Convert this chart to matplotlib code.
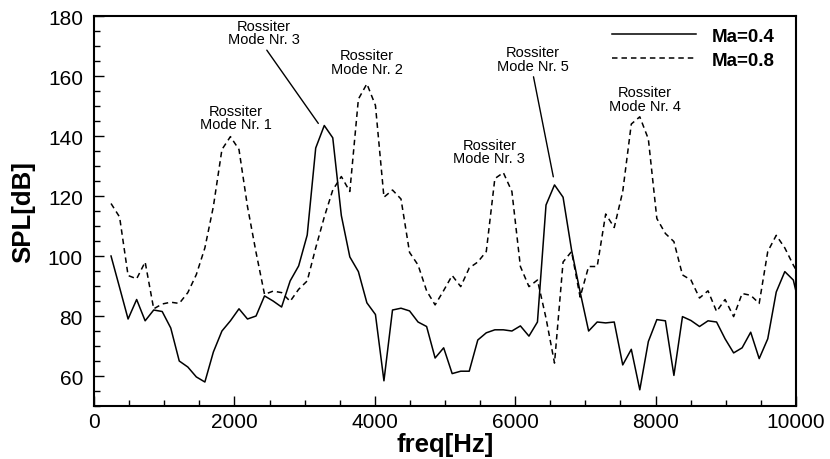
import matplotlib
matplotlib.use('Agg')
from matplotlib import pyplot as plt
from matplotlib.ticker import MultipleLocator

plt.rcParams['font.family'] = ['Liberation Sans', 'DejaVu Sans']

# frequency grid [Hz]
freq = [242, 364, 485, 607, 728, 850, 971, 1093, 1214, 1336,
        1457, 1579, 1700, 1822, 1943, 2065, 2186, 2308, 2429, 2551,
        2672, 2794, 2915, 3037, 3158, 3280, 3401, 3523, 3644, 3766,
        3887, 4009, 4130, 4252, 4373, 4495, 4616, 4738, 4859, 4981,
        5102, 5224, 5345, 5467, 5588, 5710, 5831, 5953, 6074, 6196,
        6317, 6439, 6560, 6682, 6803, 6925, 7046, 7168, 7289, 7411,
        7532, 7654, 7775, 7897, 8018, 8140, 8261, 8383, 8504, 8626,
        8747, 8869, 8990, 9112, 9233, 9355, 9476, 9598, 9719, 9841,
        9962, 10084]

# SPL [dB], Ma = 0.4
spl_04 = [100, 89.5, 79, 85.5, 78.4, 82, 81.5, 76, 65, 63,
          59.7, 58, 68, 75, 78.4, 82.4, 79, 80, 86.7, 85,
          83, 91.7, 96.7, 107, 136, 143.5, 139.4, 113.5, 99.7, 94.8,
          84.4, 80.5, 58.4, 82, 82.6, 81.7, 78, 76.5, 66, 69.4,
          60.8, 61.6, 61.6, 72, 74.4, 75.4, 75.4, 75, 76.7, 73.3,
          78, 117, 123.7, 119.6, 102, 88, 75, 78, 77.7, 78,
          63.7, 68.9, 55.4, 71.5, 78.8, 78.4, 60.2, 79.8, 78.5, 76.5,
          78.4, 78, 72.4, 67.7, 69.4, 74.6, 65.8, 72.4, 88, 94.8,
          92, 80]

# SPL [dB], Ma = 0.8
spl_08 = [117.5, 113, 93.5, 92.4, 98, 82.4, 84, 84.6, 84.2, 87.8,
          93.8, 102.7, 116.5, 135.5, 139.8, 135.5, 116.5, 101.2, 87.2, 88.3,
          87.8, 84.9, 88.9, 91.7, 102.7, 113, 122, 126.5, 121.5, 152.3,
          157.4, 150.2, 119.6, 122, 119, 101.2, 97, 88.4, 83.7, 88.5,
          93.5, 89.8, 96, 98, 101.5, 125.8, 127.8, 121.5, 96.5, 89.8,
          92, 79.3, 64.3, 98, 101.5, 86.3, 96.5, 96.5, 114, 109.5,
          121.5, 144, 146.4, 139, 112.5, 107.5, 104.8, 93.7, 92, 86,
          88.4, 81.5, 85.5, 79.8, 87.5, 86.9, 84.2, 101.5, 106.9, 102.7,
          97, 92]

fig = plt.figure(figsize=(8.3, 4.6), dpi=100)
ax = fig.add_axes([0.1133, 0.1152, 0.8457, 0.8478])

ax.plot(freq, spl_04, color='black', lw=1.1, label='Ma=0.4')
ax.plot(freq, spl_08, color='black', lw=1.1, linestyle=(0, (3.6, 2.6)), label='Ma=0.8')

ax.set_xlim(0, 10000)
ax.set_ylim(50, 180)
ax.xaxis.set_major_locator(MultipleLocator(2000))
ax.xaxis.set_minor_locator(MultipleLocator(500))
ax.yaxis.set_major_locator(MultipleLocator(20))
ax.yaxis.set_minor_locator(MultipleLocator(5))
ax.tick_params(which='both', direction='in', top=False, right=False, width=1.0, labelsize=15)
ax.tick_params(which='major', length=7)
ax.tick_params(which='minor', length=4.5)
ax.tick_params(axis='y', pad=8)
ax.tick_params(axis='x', pad=4)
for s in ax.spines.values():
    s.set_linewidth(1.5)

ax.set_xlabel('freq[Hz]', fontsize=18.5, fontweight='bold', labelpad=1)
ax.set_ylabel('SPL[dB]', fontsize=18.5, fontweight='bold', labelpad=9)

ax.legend(loc='upper right', bbox_to_anchor=(0.970, 0.970), frameon=False,
          prop={'size': 13.5, 'weight': 'bold'}, handlelength=4.5,
          handletextpad=0.85, labelspacing=0.37, borderpad=0, borderaxespad=0)

# Rossiter mode labels
note = dict(fontsize=10.5, ha='center', va='center', linespacing=0.95)
line = dict(arrowstyle='-', color='black', lw=1.0, shrinkA=1, shrinkB=0, relpos=(0.5, 0))
ax.text(2023, 146.2, 'Rossiter\nMode Nr. 1', **note)
ax.annotate('Rossiter\nMode Nr. 3', xy=(3195, 144.2), xytext=(2422, 174.5),
            arrowprops=line, **note)
ax.text(3884, 164.6, 'Rossiter\nMode Nr. 2', **note)
ax.text(5631, 134.8, 'Rossiter\nMode Nr. 3', **note)
ax.annotate('Rossiter\nMode Nr. 5', xy=(6543, 126.4), xytext=(6249, 165.7),
            arrowprops=line, **note)
ax.text(7849, 152.4, 'Rossiter\nMode Nr. 4', **note)

plt.savefig('out.png', dpi=100)
